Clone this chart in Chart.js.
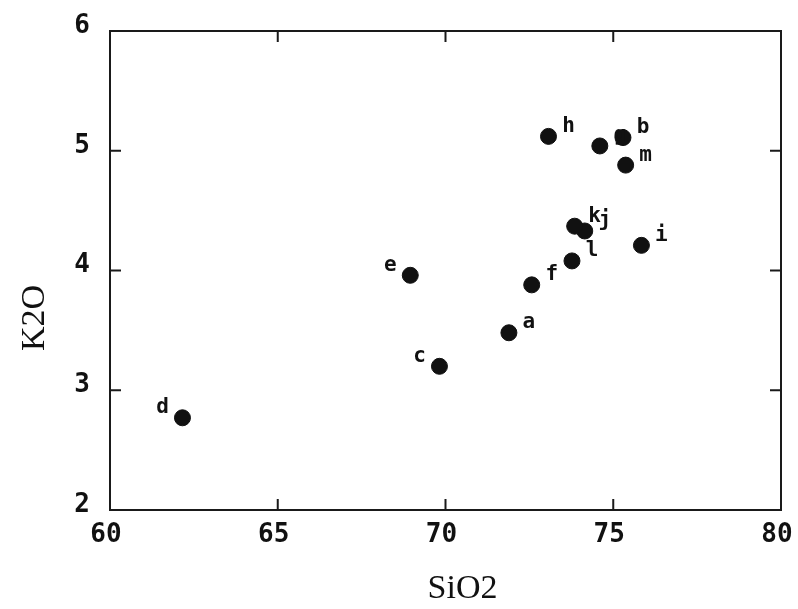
<!DOCTYPE html>
<html>
<head>
<meta charset="utf-8">
<script src="https://cdn.jsdelivr.net/npm/chart.js@4/dist/chart.umd.min.js"></script>
<style>
  html, body { margin: 0; padding: 0; background: #fff; }
  #wrap { width: 798px; height: 609px; }
</style>
</head>
<body>
<div id="wrap"><canvas id="c" width="798" height="609"></canvas></div>
<script>
// ---- data ----
const sampleNames = ['a', 'b', 'c', 'd', 'e', 'f', 'g', 'h', 'i', 'j', 'k', 'l', 'm'];
const sio2 = [71.89, 75.29, 69.82, 62.16, 68.95, 72.57, 74.60, 73.07, 75.84, 74.15, 73.85, 73.77, 75.37];
const k2o  = [3.48, 5.11, 3.20, 2.77, 3.96, 3.88, 5.04, 5.12, 4.21, 4.33, 4.37, 4.08, 4.88];
const xTicks = [60, 65, 70, 75, 80];
const yTicks = [2, 3, 4, 5, 6];
const xTitle = 'SiO2';
const yTitle = 'K2O';

const points = sio2.map((x, i) => ({ x: x, y: k2o[i], name: sampleNames[i] }));
const leftLabelled = new Set(['c', 'd', 'e']);

const frameAndLabels = {
  id: 'frameAndLabels',
  afterDraw(chart) {
    const ctx = chart.ctx;
    const a = chart.chartArea;
    const xs = chart.scales.x, ys = chart.scales.y;
    ctx.save();
    ctx.strokeStyle = '#1a1a1a';
    ctx.lineWidth = 2;
    ctx.strokeRect(a.left, a.top, a.right - a.left, a.bottom - a.top);
    const tl = 11;
    ctx.beginPath();
    xTicks.forEach(v => {
      const px = xs.getPixelForValue(v);
      ctx.moveTo(px, a.bottom); ctx.lineTo(px, a.bottom - tl);
      ctx.moveTo(px, a.top); ctx.lineTo(px, a.top + tl);
    });
    yTicks.forEach(v => {
      const py = ys.getPixelForValue(v);
      ctx.moveTo(a.left, py); ctx.lineTo(a.left + tl, py);
      ctx.moveTo(a.right, py); ctx.lineTo(a.right - tl, py);
    });
    ctx.stroke();

    // point letters
    ctx.fillStyle = '#111';
    ctx.font = 'bold 21px "DejaVu Sans Mono"';
    ctx.textAlign = 'center';
    ctx.textBaseline = 'middle';
    const meta = chart.getDatasetMeta(0);
    meta.data.forEach((el, i) => {
      const nm = points[i].name;
      const dx = leftLabelled.has(nm) ? -20 : 20;
      ctx.fillText(nm, el.x + dx, el.y - 10);
    });

    // axis titles
    ctx.font = '34px "Liberation Serif"';
    ctx.textAlign = 'center';
    ctx.textBaseline = 'alphabetic';
    ctx.fillText(xTitle, (a.left + a.right) / 2 + 17, 598);
    ctx.save();
    ctx.translate(44, 318);
    ctx.rotate(-Math.PI / 2);
    ctx.fillText(yTitle, 0, 0);
    ctx.restore();
    ctx.restore();
  }
};

new Chart(document.getElementById('c'), {
  type: 'scatter',
  data: {
    datasets: [{
      label: 'samples',
      data: points,
      backgroundColor: '#111',
      borderColor: '#111',
      pointRadius: 8,
      pointHoverRadius: 8
    }]
  },
  options: {
    responsive: false,
    animation: false,
    devicePixelRatio: 1,
    layout: { padding: { top: 31, right: 17, left: 0, bottom: 0 } },
    plugins: { legend: { display: false }, tooltip: { enabled: false } },
    scales: {
      x: {
        type: 'linear', min: 60, max: 80,
        afterBuildTicks: s => { s.ticks = xTicks.map(v => ({ value: v })); },
        afterFit: s => { s.height = 99; s.paddingLeft = 0; s.paddingRight = 0; },
        grid: { display: false, drawTicks: false },
        border: { display: false },
        ticks: { color: '#111', padding: 10, labelOffset: -4, font: { family: 'DejaVu Sans Mono', weight: 'bold', size: 26 } }
      },
      y: {
        type: 'linear', min: 2, max: 6,
        afterBuildTicks: s => { s.ticks = yTicks.map(v => ({ value: v })); },
        afterFit: s => { s.width = 110; s.paddingTop = 0; s.paddingBottom = 0; },
        grid: { display: false, drawTicks: false },
        border: { display: false },
        ticks: { color: '#111', padding: 20, labelOffset: -5, font: { family: 'DejaVu Sans Mono', weight: 'bold', size: 26 } }
      }
    }
  },
  plugins: [frameAndLabels]
});
</script>
</body>
</html>
